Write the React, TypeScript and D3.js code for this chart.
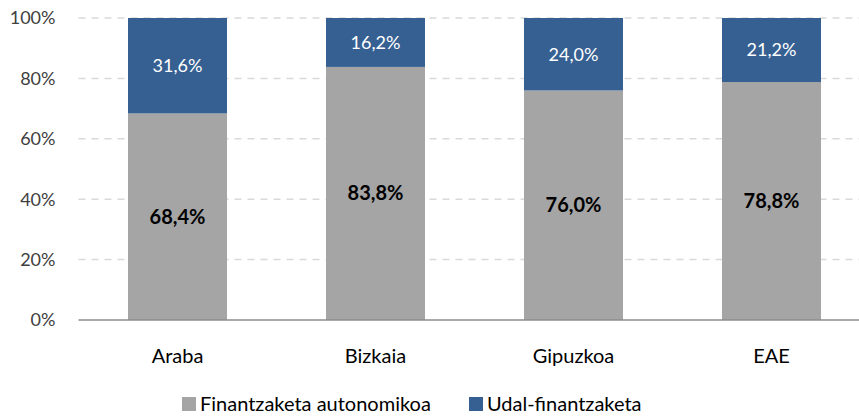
import React from "react";
import * as d3 from "d3";

const categories = ["Araba", "Bizkaia", "Gipuzkoa", "EAE"];
const autonomikoa = [68.4, 83.8, 76.0, 78.8];
const udal = [31.6, 16.2, 24.0, 21.2];
const yTicks = [0, 20, 40, 60, 80, 100];
const seriesNames = ["Finantzaketa autonomikoa", "Udal-finantzaketa"];
const colors = ["#a5a5a5", "#366092"];

const width = 859;
const height = 416;
const margin = { top: 18, left: 78.5, bottom: 96, right: -11.5 };
const iheight = height - margin.top - margin.bottom;
const font = "Lato, 'Open Sans', sans-serif";

const fmt = (v: number) => v.toFixed(1).replace(".", ",") + "%";

export default function App() {
  const x = d3
    .scaleBand()
    .domain(categories)
    .range([0, width - margin.left - margin.right])
    .paddingInner(0.5)
    .paddingOuter(0.25);
  const y = d3.scaleLinear().domain([0, 100]).range([iheight, 0]);

  return (
    <svg width={width} height={height} style={{ position: "absolute", left: 0, top: 0 }}>
      <g transform={`translate(${margin.left},${margin.top})`} fontFamily={font}>
        {yTicks.map((t) => (
          <g key={t}>
            {t > 0 && (
              <line
                x1={0}
                x2={width - margin.left}
                y1={y(t)}
                y2={y(t)}
                stroke="#d9d9d9"
                strokeWidth={1.5}
                strokeDasharray="7,6"
              />
            )}
            <text x={-23} y={y(t)} dy="0.35em" textAnchor="end" fontSize={18} fill="#404040">
              {t}%
            </text>
          </g>
        ))}
        {categories.map((c, i) => {
          const x0 = x(c)!;
          const bw = x.bandwidth();
          return (
            <g key={c}>
              <rect x={x0} y={y(autonomikoa[i])} width={bw} height={iheight - y(autonomikoa[i])} fill={colors[0]} />
              <rect
                x={x0}
                y={y(autonomikoa[i] + udal[i])}
                width={bw}
                height={y(autonomikoa[i]) - y(autonomikoa[i] + udal[i])}
                fill={colors[1]}
              />
              <text
                x={x0 + bw / 2}
                y={y(autonomikoa[i] / 2)}
                dy="0.35em"
                textAnchor="middle"
                fontSize={20}
                fontWeight="bold"
                fill="#000"
              >
                {fmt(autonomikoa[i])}
              </text>
              <text
                x={x0 + bw / 2}
                y={y(autonomikoa[i] + udal[i] / 2)}
                dy="0.35em"
                textAnchor="middle"
                fontSize={18}
                fill="#fff"
              >
                {fmt(udal[i])}
              </text>
              <text x={x0 + bw / 2} y={iheight + 36} dy="0.35em" textAnchor="middle" fontSize={20} fill="#000">
                {c}
              </text>
            </g>
          );
        })}
        <line x1={0} x2={width - margin.left} y1={iheight} y2={iheight} stroke="#8c8c8c" strokeWidth={1.5} />
      </g>
      <g fontFamily={font} fontSize={20} fill="#000">
        <rect x={182} y={397} width={14} height={14} fill={colors[0]} />
        <text x={200} y={404} dy="0.35em">{seriesNames[0]}</text>
        <rect x={469} y={397} width={14} height={14} fill={colors[1]} />
        <text x={487} y={404} dy="0.35em">{seriesNames[1]}</text>
      </g>
    </svg>
  );
}
